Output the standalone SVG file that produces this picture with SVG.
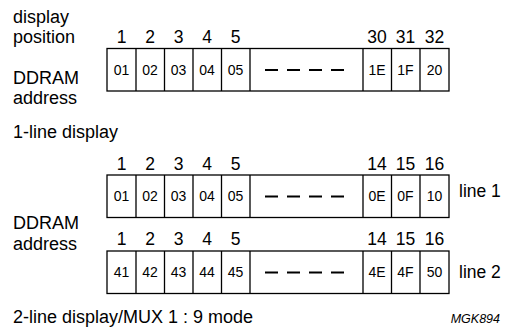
<svg xmlns="http://www.w3.org/2000/svg" width="509" height="332" viewBox="0 0 509 332">
<style>
text{font-family:"Liberation Sans",Arial,sans-serif;fill:#000}
.lbl{font-size:18px}
.side{font-size:17.5px}
.num{font-size:17.5px;text-anchor:middle}
.cell{font-size:14px;text-anchor:middle}
.box{fill:#fff;stroke:#000;stroke-width:1.3}
.dash{stroke:#000;stroke-width:2;stroke-dasharray:13 9}
.id{font-size:12.5px;font-style:italic;text-anchor:end}
</style>
<defs>
<g id="row">
<rect class="box" x="107" y="0" width="342" height="42.5"/>
<path d="M136 0V42.5M164.5 0V42.5M193 0V42.5M221.5 0V42.5M250 0V42.5M363 0V42.5M391.5 0V42.5M420 0V42.5" stroke="#000" stroke-width="1.3" fill="none"/>
<line class="dash" x1="265" y1="21.5" x2="345" y2="21.5"/>
</g>
</defs>
<g id="labels">
<text class="lbl" x="13" y="23">display</text>
<text class="lbl" x="13" y="43">position</text>
<text class="lbl" x="13" y="84">DDRAM</text>
<text class="lbl" x="13" y="104">address</text>
<text class="lbl" x="13" y="138">1-line display</text>
<text class="lbl" x="13" y="229">DDRAM</text>
<text class="lbl" x="13" y="250">address</text>
<text class="lbl" x="13" y="323">2-line display/MUX 1 : 9 mode</text>
<text class="id" x="500" y="323">MGK894</text>
</g>
<g id="row1">
<use href="#row" y="48.5"/>
<text class="num" y="43"><tspan x="121.5">1</tspan><tspan x="150">2</tspan><tspan x="178.5">3</tspan><tspan x="207">4</tspan><tspan x="235.5">5</tspan><tspan x="377">30</tspan><tspan x="405.5">31</tspan><tspan x="434.5">32</tspan></text>
<text class="cell" y="75"><tspan x="121.5">01</tspan><tspan x="150">02</tspan><tspan x="178.5">03</tspan><tspan x="207">04</tspan><tspan x="235.5">05</tspan><tspan x="377">1E</tspan><tspan x="405.5">1F</tspan><tspan x="434.5">20</tspan></text>
</g>
<g id="row2">
<use href="#row" y="175"/>
<text class="num" y="170"><tspan x="121.5">1</tspan><tspan x="150">2</tspan><tspan x="178.5">3</tspan><tspan x="207">4</tspan><tspan x="235.5">5</tspan><tspan x="377">14</tspan><tspan x="405.5">15</tspan><tspan x="434.5">16</tspan></text>
<text class="cell" y="201"><tspan x="121.5">01</tspan><tspan x="150">02</tspan><tspan x="178.5">03</tspan><tspan x="207">04</tspan><tspan x="235.5">05</tspan><tspan x="377">0E</tspan><tspan x="405.5">0F</tspan><tspan x="434.5">10</tspan></text>
<text class="side" x="459" y="197">line 1</text>
</g>
<g id="row3">
<use href="#row" y="251"/>
<text class="num" y="245"><tspan x="121.5">1</tspan><tspan x="150">2</tspan><tspan x="178.5">3</tspan><tspan x="207">4</tspan><tspan x="235.5">5</tspan><tspan x="377">14</tspan><tspan x="405.5">15</tspan><tspan x="434.5">16</tspan></text>
<text class="cell" y="277"><tspan x="121.5">41</tspan><tspan x="150">42</tspan><tspan x="178.5">43</tspan><tspan x="207">44</tspan><tspan x="235.5">45</tspan><tspan x="377">4E</tspan><tspan x="405.5">4F</tspan><tspan x="434.5">50</tspan></text>
<text class="side" x="459" y="278">line 2</text>
</g>
<g id="connectors"></g>
</svg>
